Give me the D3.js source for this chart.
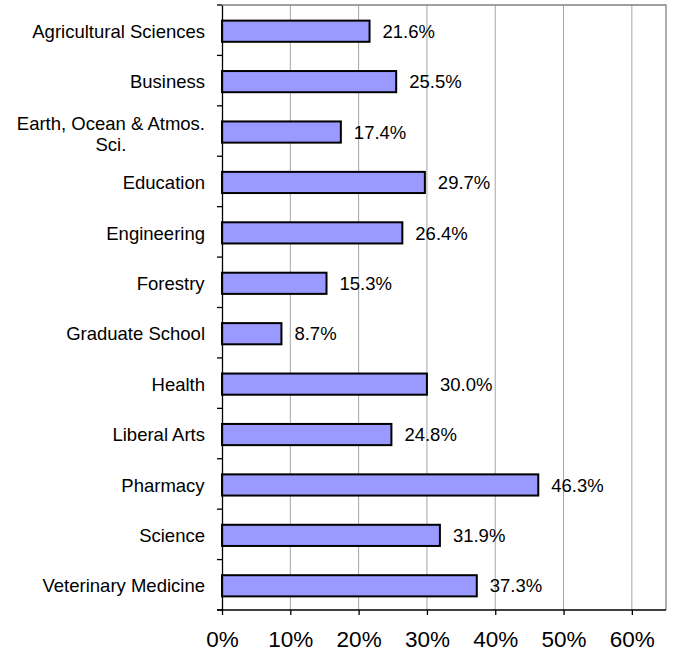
<!DOCTYPE html>
<html><head><meta charset="utf-8">
<script src="https://cdn.jsdelivr.net/npm/d3@7"></script>
<style>body{margin:0;background:#fff}svg{display:block;font-family:"Liberation Sans",Arial,sans-serif}</style>
</head><body>
<svg id="c" width="673" height="654"></svg>
<script>
const categories = ["Agricultural Sciences","Business","Earth, Ocean & Atmos. Sci.","Education","Engineering","Forestry","Graduate School","Health","Liberal Arts","Pharmacy","Science","Veterinary Medicine"];
const categoryLines = [["Agricultural Sciences"],["Business"],["Earth, Ocean & Atmos.","Sci."],["Education"],["Engineering"],["Forestry"],["Graduate School"],["Health"],["Liberal Arts"],["Pharmacy"],["Science"],["Veterinary Medicine"]];
const values = [21.6,25.5,17.4,29.7,26.4,15.3,8.7,30.0,24.8,46.3,31.9,37.3];
const xTicks = [0,10,20,30,40,50,60];

const svg = d3.select("#c");
const L = 222, R = 666, T = 5, B = 610;
const x = d3.scaleLinear().domain([0,65]).range([L,R]);
const y = d3.scaleBand().domain(categories).range([T,B]).paddingInner(0.58).paddingOuter(0.29);
const band = d3.scaleBand().domain(categories).range([T,B]);

// gridlines
svg.append("g").selectAll("line").data(xTicks.slice(1)).join("line")
  .attr("x1",d=>x(d)).attr("x2",d=>x(d)).attr("y1",T).attr("y2",B)
  .attr("stroke","#a6a6a6").attr("stroke-width",1);
// border
svg.append("path").attr("d",`M${L},${T}H${R}V${B}`).attr("fill","none").attr("stroke","#808080").attr("stroke-width",1.3);

// bars
svg.append("g").selectAll("rect").data(values).join("rect")
  .attr("x",x(0)).attr("y",(d,i)=>y(categories[i])+1)
  .attr("width",d=>x(d)-x(0)).attr("height",y.bandwidth())
  .attr("fill","#9999ff").attr("stroke","#000").attr("stroke-width",2);

// value labels
svg.append("g").selectAll("text").data(values).join("text")
  .attr("x",d=>x(d)+13).attr("y",(d,i)=>y(categories[i])+1+y.bandwidth()/2)
  .attr("dy","0.36em").attr("font-size",18.5).attr("fill","#000")
  .text(d=>d.toFixed(1)+"%");

// y axis
const yAxis = d3.axisLeft(band).tickSize(0).tickFormat("");
const gy = svg.append("g").attr("transform",`translate(${L},0)`).call(yAxis);
gy.select(".domain").attr("stroke","#000").attr("stroke-width",1.3);
svg.append("g").selectAll("line").data(d3.range(categories.length+1)).join("line")
  .attr("x1",L-5).attr("x2",L).attr("y1",i=>T+i*band.step()).attr("y2",i=>T+i*band.step())
  .attr("stroke","#000").attr("stroke-width",1.3);

// category labels
const cl = svg.append("g").selectAll("text").data(categoryLines).join("text")
  .attr("font-size",18.5).attr("fill","#000").attr("text-anchor","middle");
cl.each(function(lines,i){
  const t = d3.select(this);
  const cy = y(categories[i])+1+y.bandwidth()/2 + (lines.length>1?2:0);
  const lh = 21.5;
  lines.forEach((s,j)=>{
    t.append("tspan").attr("x",0).attr("y",cy+(j-(lines.length-1)/2)*lh).attr("dy","0.36em").text(s);
  });
});
cl.each(function(){
  const t = d3.select(this);
  const w = this.getBBox().width;
  t.selectAll("tspan").attr("x",205 - w/2);
});

// x axis
const xAxis = d3.axisBottom(x).tickValues(xTicks).tickSize(5).tickFormat(d=>d+"%");
const gx = svg.append("g").attr("transform",`translate(0,${B})`).call(xAxis);
gx.select(".domain").attr("d",`M${L-5},0H${R}`).attr("stroke","#000").attr("stroke-width",1.3);
gx.selectAll(".tick line").attr("stroke","#000").attr("stroke-width",1.3);
gx.selectAll(".tick text").attr("font-size",22.5).attr("fill","#000").attr("y",21).attr("dy","0.71em").attr("font-family","Liberation Sans, Arial, sans-serif");
</script>
</body></html>
